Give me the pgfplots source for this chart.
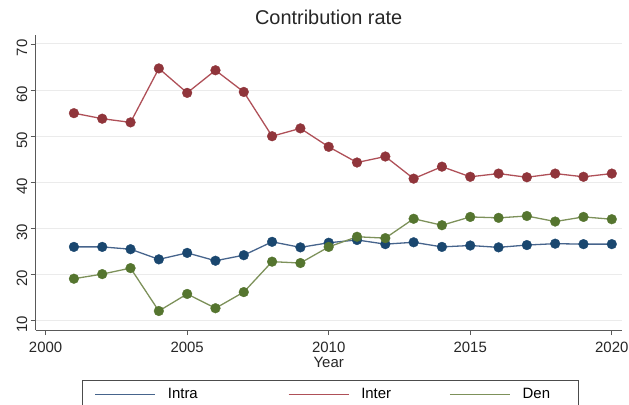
\documentclass[border=0pt]{standalone}
\usepackage{pgfplots}
\pgfplotsset{compat=1.18}
\usepackage{fontspec}
\setmainfont{Liberation Sans}
\definecolor{cintra}{RGB}{26,71,111}
\definecolor{cinter}{RGB}{144,53,59}
\definecolor{cden}{RGB}{85,117,47}
\definecolor{lintra}{RGB}{70,100,140}
\definecolor{linter}{RGB}{175,80,88}
\definecolor{lden}{RGB}{125,145,90}
\begin{document}
\begin{tikzpicture}
\begin{axis}[
  scale only axis,
  width=586bp, height=295bp,
  xmin=1999.65, xmax=2020.35,
  ymin=7.98, ymax=71.95,
  axis lines*=left,
  axis line style={-, draw=black!65, line width=0.9bp},
  xtick={2000,2005,2010,2015,2020},
  ytick={10,20,30,40,50,60,70},
  tick align=outside,
  major tick length=5bp,
  tick style={draw=black!65, line width=0.8bp},
  ymajorgrids,
  grid style={draw=black!8, line width=1bp},
  /pgf/number format/assume math mode=true,
  /pgf/number format/1000 sep={},
  ticklabel style={font=\fontsize{15}{18}\selectfont, text=black!85},
  yticklabel style={rotate=90, anchor=south, xshift=-4bp},
  xticklabel style={yshift=-4bp},
  xlabel={Year},
  xlabel style={at={(axis description cs:0.5,0)}, anchor=center, yshift=-32bp,
    font=\fontsize{15}{18}\selectfont, text=black!85},
  legend columns=3,
  legend style={at={(0.079,-0.1695)}, anchor=north west,
    draw=black!70, line width=0.8bp,
    font=\fontsize{15}{18}\selectfont,
    inner xsep=12bp, inner ysep=6bp,
    /tikz/column 1/.style={column sep=10bp},
    /tikz/column 2/.style={column sep=88bp},
    /tikz/column 3/.style={column sep=10bp},
    /tikz/column 4/.style={column sep=56bp},
    /tikz/column 5/.style={column sep=10bp}},
  legend image code/.code={\draw[#1, line width=1.5bp] (0bp,0bp) -- (60bp,0bp);},
  mark size=4.9bp,
]
\addplot[color=lintra, line width=1.3bp, mark=*, mark options={fill=cintra, draw=cintra, line width=0.3bp}] coordinates {
(2001,26.0) (2002,26.0) (2003,25.5) (2004,23.3) (2005,24.7) (2006,23.0) (2007,24.2)
(2008,27.1) (2009,25.9) (2010,26.9) (2011,27.5) (2012,26.6) (2013,27.0) (2014,26.0)
(2015,26.3) (2016,25.9) (2017,26.4) (2018,26.7) (2019,26.6) (2020,26.6)};
\addlegendentry{Intra}
\addplot[color=linter, line width=1.3bp, mark=*, mark options={fill=cinter, draw=cinter, line width=0.3bp}] coordinates {
(2001,55.0) (2002,53.8) (2003,53.0) (2004,64.7) (2005,59.4) (2006,64.3) (2007,59.6)
(2008,50.0) (2009,51.7) (2010,47.7) (2011,44.3) (2012,45.6) (2013,40.8) (2014,43.4)
(2015,41.2) (2016,41.9) (2017,41.1) (2018,41.9) (2019,41.2) (2020,41.9)};
\addlegendentry{Inter}
\addplot[color=lden, line width=1.3bp, mark=*, mark options={fill=cden, draw=cden, line width=0.3bp}] coordinates {
(2001,19.1) (2002,20.1) (2003,21.4) (2004,12.1) (2005,15.8) (2006,12.7) (2007,16.2)
(2008,22.8) (2009,22.5) (2010,26.0) (2011,28.2) (2012,27.9) (2013,32.1) (2014,30.7)
(2015,32.5) (2016,32.3) (2017,32.7) (2018,31.5) (2019,32.5) (2020,32.0)};
\addlegendentry{Den\hspace*{14bp}\mbox{}}
\end{axis}
\node[font=\fontsize{20}{24}\selectfont, text=black!85] at (293bp,313bp) {Contribution rate};
\pgfresetboundingbox
\path[use as bounding box] (-35.7bp,-75bp) rectangle (593.3bp,330bp);
\end{tikzpicture}
\end{document}
